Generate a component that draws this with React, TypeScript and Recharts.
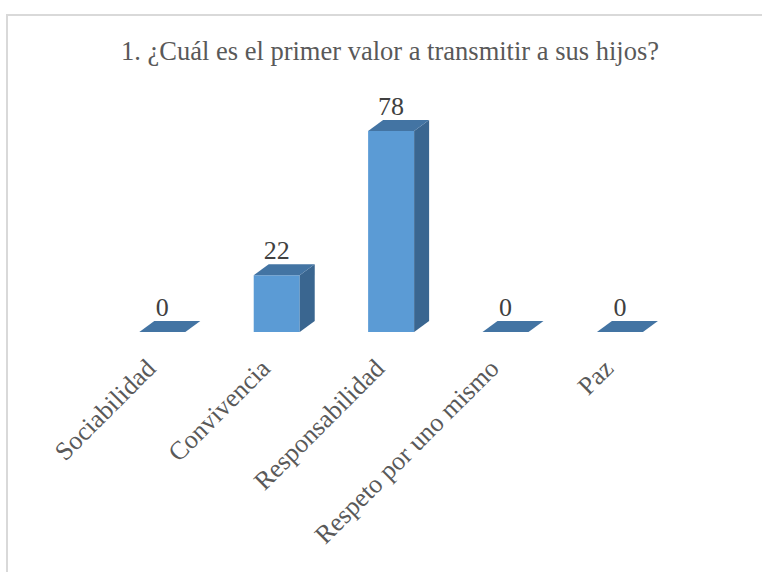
import React from "react";
import { BarChart, Bar, XAxis, YAxis } from "recharts";

const categories = [
  "Sociabilidad",
  "Convivencia",
  "Responsabilidad",
  "Respeto por uno mismo",
  "Paz",
];
const values = [0, 22, 78, 0, 0];

const TITLE = "1. ¿Cuál es el primer valor a transmitir a sus hijos?";

const data = categories.map((name, i) => ({ name, value: values[i] }));

const FONT = "Liberation Serif, Tinos, DejaVu Serif, serif";
const DX = 15;
const DY = 11;

const Bar3D = (props: any) => {
  const { x, y, width, height, value } = props;
  const h = Math.max(0, height || 0);
  const front = "#5b9bd5";
  const top = "#4374a3";
  const side = "#3a6690";
  return (
    <g>
      {h > 0 && <rect x={x} y={y} width={width} height={h} fill={front} />}
      {h > 0 && (
        <polygon
          points={`${x + width},${y} ${x + width + DX},${y - DY} ${x + width + DX},${y + h - DY} ${x + width},${y + h}`}
          fill={side}
        />
      )}
      <polygon
        points={`${x},${y} ${x + DX},${y - DY} ${x + width + DX},${y - DY} ${x + width},${y}`}
        fill={top}
      />
      <text
        x={x + width / 2}
        y={y - DY - 5}
        textAnchor="middle"
        style={{ fontFamily: FONT, fontSize: 26 }}
        fill="#404040"
      >
        {value}
      </text>
    </g>
  );
};

const CategoryTick = (props: any) => {
  const { x, payload } = props;
  return (
    <text
      transform={`translate(${x - 5},370) rotate(-45)`}
      textAnchor="end"
      style={{ fontFamily: FONT, fontSize: 26 }}
      fill="#595959"
    >
      {payload.value}
    </text>
  );
};

export default function App() {
  return (
    <div
      style={{
        position: "absolute",
        left: 0,
        top: 0,
        width: 762,
        height: 572,
        overflow: "hidden",
        background: "#fff",
      }}
    >
      <div
        style={{
          position: "absolute",
          left: 6,
          top: 14,
          width: 800,
          height: 620,
          border: "2px solid #d9d9d9",
        }}
      />
      <div
        style={{
          position: "absolute",
          left: 0,
          top: 36,
          width: 780,
          textAlign: "center",
          fontFamily: FONT,
          fontSize: 26.5,
          color: "#595959",
          whiteSpace: "nowrap",
        }}
      >
        {TITLE}
      </div>
      <div style={{ position: "absolute", left: 0, top: 0 }}>
        <BarChart
          width={762}
          height={572}
          data={data}
          margin={{ top: 100, right: 85, bottom: 0, left: 105 }}
          barCategoryGap="30%"
        >
          <XAxis
            dataKey="name"
            axisLine={false}
            tickLine={false}
            interval={0}
            height={240}
            tick={<CategoryTick />}
          />
          <YAxis hide domain={[0, 90]} />
          <Bar dataKey="value" shape={<Bar3D />} isAnimationActive={false} />
        </BarChart>
      </div>
    </div>
  );
}
